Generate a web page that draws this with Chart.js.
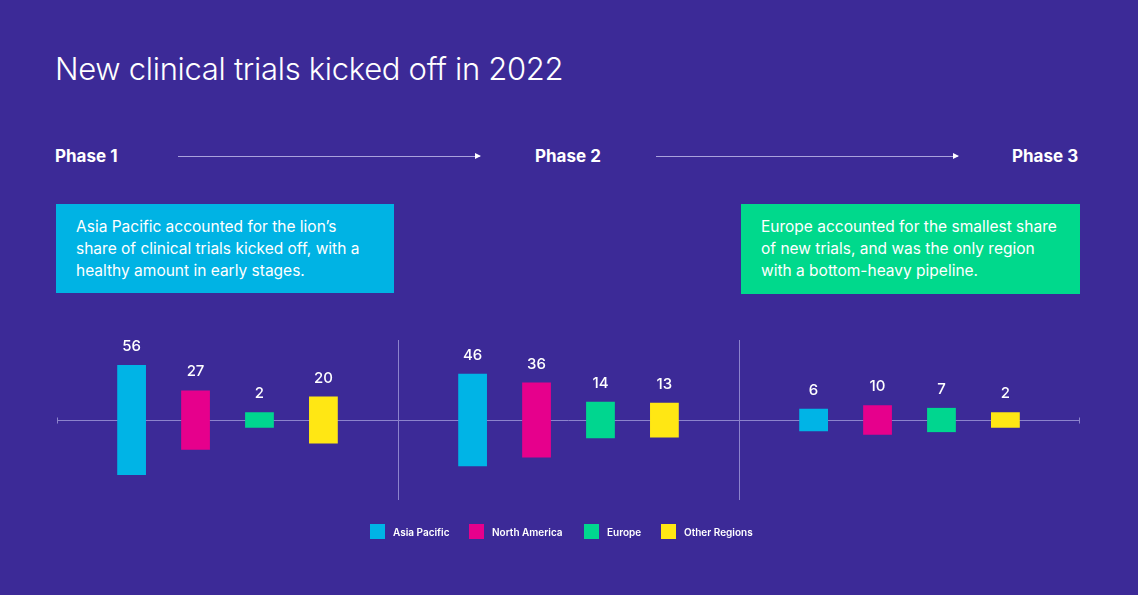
<!DOCTYPE html>
<html><head><meta charset="utf-8">
<script src="https://cdn.jsdelivr.net/npm/chart.js@4"></script>
<style>
body{margin:0;background:#3c2a97;font-family:Inter,"Open Sans",sans-serif;color:#fff;width:1138px;height:595px;overflow:hidden;position:relative}
.abs{position:absolute}
h1{position:absolute;left:55px;top:50px;margin:0;font-weight:300;font-size:31px;letter-spacing:-0.3px}
.ph{font-weight:700;font-size:17px;top:146px}
.arrow{height:1px;background:#a9a2dc;top:156px}
.arrow:after{content:"";position:absolute;right:-1px;top:-3px;border-left:6px solid #fff;border-top:3.5px solid transparent;border-bottom:3.5px solid transparent}
.box{font-size:15.5px;line-height:22px;padding:0 20px;box-sizing:border-box;display:flex;align-items:center}
.legend{top:524px;font-size:10px;font-weight:600;display:flex;align-items:center}
.legend span{display:inline-block;width:15px;height:15px;margin-right:8px}
#wrap{position:absolute;left:0;top:0;width:1138px;height:595px}
</style></head><body>
<h1>New clinical trials kicked off in 2022</h1>
<div class="abs ph" style="left:55px">Phase 1</div>
<div class="abs ph" style="left:535px">Phase 2</div>
<div class="abs ph" style="left:1012px">Phase 3</div>
<div class="abs arrow" style="left:178px;width:302px"></div>
<div class="abs arrow" style="left:656px;width:302px"></div>
<div class="abs box" style="left:56px;top:204px;width:338px;height:89px;background:#00b3e4">Asia Pacific accounted for the lion’s share of clinical trials kicked off, with a healthy amount in early stages.</div>
<div class="abs box" style="left:741px;top:204px;width:339px;height:90px;background:#00d98c">Europe accounted for the smallest share of new trials, and was the only region with a bottom-heavy pipeline.</div>
<div id="wrap"><canvas id="c"></canvas></div>
<div class="abs legend" style="left:370px"><span style="background:#00b4e6"></span>Asia Pacific</div>
<div class="abs legend" style="left:469px"><span style="background:#e6008c"></span>North America</div>
<div class="abs legend" style="left:584px"><span style="background:#00d68f"></span>Europe</div>
<div class="abs legend" style="left:661px"><span style="background:#ffe714"></span>Other Regions</div>
<script>
const phases = ['Phase 1', 'Phase 2', 'Phase 3']
const regions = ['Asia Pacific', 'North America', 'Europe', 'Other Regions']
const colors = ['#00b4e6', '#e6008c', '#00d68f', '#ffe714']
const asiaPacific = [56, 46, 6]
const northAmerica = [27, 36, 10]
const europe = [2, 14, 7]
const otherRegions = [20, 13, 2]
const series = [asiaPacific, northAmerica, europe, otherRegions]

// bars are centred on the axis; height grows with the value
function span(v) {
    const half = (6 + 0.875 * v) / 1.6
    return [-half, half]
}

const guides = {
    id: 'guides',
    beforeDatasetsDraw(chart) {
        const { ctx, chartArea: a, scales: { x, y } } = chart
        ctx.save()
        ctx.strokeStyle = '#8c83cc'
        ctx.lineWidth = 1
        const y0 = Math.round(y.getPixelForValue(0)) + 0.5
        ctx.beginPath()
        ctx.moveTo(a.left, y0); ctx.lineTo(a.right, y0)
        ctx.moveTo(a.left + 0.5, y0 - 3); ctx.lineTo(a.left + 0.5, y0 + 3)
        ctx.moveTo(a.right - 0.5, y0 - 3); ctx.lineTo(a.right - 0.5, y0 + 3)
        for (let i = 1; i < phases.length; i++) {
            const px = Math.round((x.getPixelForValue(i - 1) + x.getPixelForValue(i)) / 2) + 0.5
            ctx.moveTo(px, a.top); ctx.lineTo(px, a.bottom)
        }
        ctx.stroke()
        ctx.restore()
    },
    afterDatasetsDraw(chart) {
        const { ctx } = chart
        ctx.save()
        ctx.fillStyle = '#fff'
        ctx.font = '500 15px Inter, sans-serif'
        ctx.textAlign = 'center'
        chart.data.datasets.forEach((ds, i) => {
            chart.getDatasetMeta(i).data.forEach((bar, j) => {
                ctx.fillText(series[i][j], bar.x, bar.y - 14)
            })
        })
        ctx.restore()
    }
}

new Chart(document.getElementById('c'), {
    type: 'bar',
    data: {
        labels: phases,
        datasets: regions.map((r, i) => ({
            label: r,
            data: series[i].map(span),
            backgroundColor: colors[i],
            borderSkipped: false,
            categoryPercentage: 0.75,
            barPercentage: 0.45
        }))
    },
    options: {
        responsive: true,
        maintainAspectRatio: false,
        animation: false,
        layout: { padding: { left: 57, right: 58, top: 340, bottom: 95 } },
        plugins: { legend: { display: false }, tooltip: { enabled: false } },
        scales: {
            x: { display: false },
            y: { display: false, min: -50, max: 50 }
        }
    },
    plugins: [guides]
})
</script>
</body></html>
